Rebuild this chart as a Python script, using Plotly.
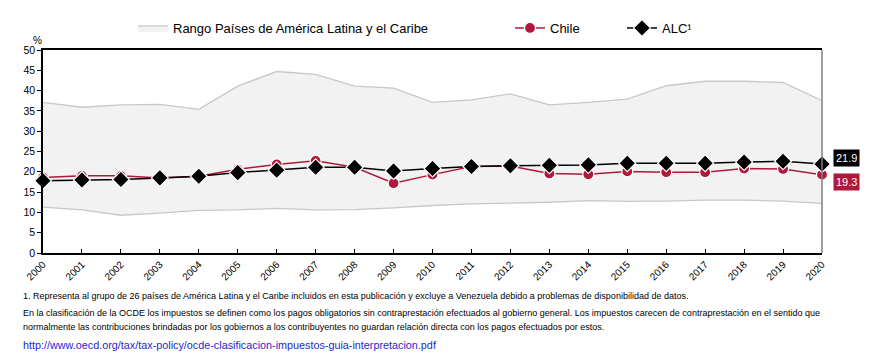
import plotly.graph_objects as go

years = list(range(2000, 2021))
range_upper = [37.1, 35.9, 36.5, 36.6, 35.4, 41.1, 44.7, 44.0, 41.1, 40.6, 37.1,
               37.7, 39.2, 36.5, 37.1, 37.9, 41.2, 42.3, 42.3, 42.0, 37.5]
range_lower = [11.3, 10.6, 9.3, 9.8, 10.5, 10.6, 11.0, 10.6, 10.7, 11.1, 11.7,
               12.1, 12.3, 12.5, 12.9, 12.7, 12.8, 13.0, 13.0, 12.8, 12.2]
chile = [18.6, 19.0, 19.0, 18.5, 18.9, 20.6, 21.8, 22.7, 21.1, 17.2, 19.3,
         21.3, 21.4, 19.6, 19.4, 20.1, 19.9, 19.9, 20.8, 20.7, 19.3]
alc = [17.8, 18.0, 18.1, 18.5, 18.9, 19.8, 20.4, 21.1, 21.1, 20.2, 20.8,
       21.3, 21.5, 21.6, 21.7, 22.1, 22.1, 22.1, 22.4, 22.6, 21.9]

name_range = "Rango Países de América Latina y el Caribe"
name_chile = "Chile"
name_alc = "ALC¹"
y_ticks = list(range(0, 55, 5))

note1 = "1. Representa al grupo de 26 países de América Latina y el Caribe incluidos en esta publicación y excluye a Venezuela debido a problemas de disponibilidad de datos."
note2 = "En la clasificación de la OCDE los impuestos se definen como los pagos obligatorios sin contraprestación efectuados al gobierno general. Los impuestos carecen de contraprestación en el sentido que"
note3 = "normalmente las contribuciones brindadas por los gobiernos a los contribuyentes no guardan relación directa con los pagos efectuados por estos."
link = "http://www.oecd.org/tax/tax-policy/ocde-clasificacion-impuestos-guia-interpretacion.pdf"

RED = "#B0173B"
FONT = "Liberation Sans, Arial, sans-serif"

fig = go.Figure()
fig.add_trace(go.Scatter(x=years, y=range_lower, mode="lines",
                         line=dict(color="#c8c8c8", width=1.3),
                         showlegend=False, hoverinfo="skip"))
fig.add_trace(go.Scatter(x=years, y=range_upper, mode="lines", fill="tonexty",
                         fillcolor="#f2f2f2", line=dict(color="#c8c8c8", width=1.3),
                         name=name_range, legendwidth=332))
fig.add_trace(go.Scatter(x=years, y=chile, mode="lines+markers", name=name_chile,
                         line=dict(color=RED, width=1.5),
                         marker=dict(symbol="circle", size=11, color=RED,
                                     line=dict(color="white", width=1.2)),
                         cliponaxis=False, legendwidth=67))
fig.add_trace(go.Scatter(x=years, y=alc, mode="lines+markers", name=name_alc,
                         line=dict(color="#000000", width=1.5),
                         marker=dict(symbol="diamond", size=13, color="#000000",
                                     line=dict(color="white", width=1.2)),
                         cliponaxis=False, legendwidth=60))

annotations = [
    dict(x=years[-1], y=alc[-1], xref="x", yref="y", text=f"{alc[-1]:.1f}",
         showarrow=False, xshift=24, yshift=6, bgcolor="#000000",
         font=dict(family=FONT, size=11, color="white"), borderpad=2),
    dict(x=years[-1], y=chile[-1], xref="x", yref="y", text=f"{chile[-1]:.1f}",
         showarrow=False, xshift=24, yshift=-7, bgcolor=RED,
         font=dict(family=FONT, size=11, color="white"), borderpad=2),
    dict(x=0, y=1.0, xref="paper", yref="paper", text="%", showarrow=False,
         xanchor="right", yanchor="bottom", xshift=1, yshift=2,
         font=dict(family=FONT, size=10, color="#000")),
]
foot = [(note1, 296, "#000", 9), (note2, 313, "#000", 9), (note3, 326.5, "#000", 9),
        (link, 345, "#1F1FD0", 10.8)]
for txt, py, col, sz in foot:
    annotations.append(dict(x=(21 - 43) / 779, y=(253 - py) / 203, xref="paper", yref="paper",
                            text=txt, showarrow=False, xanchor="left", yanchor="middle",
                            font=dict(family=FONT, size=sz, color=col)))

fig.update_layout(
    width=874, height=354,
    margin=dict(l=43, r=52, t=50, b=101),
    plot_bgcolor="white", paper_bgcolor="white",
    font=dict(family=FONT, size=11, color="#000"),
    xaxis=dict(range=[2000, 2020], tickmode="array", tickvals=years,
               ticktext=[str(y) for y in years], tickangle=-45,
               ticks="inside", ticklen=4, tickcolor="#000",
               showline=True, linecolor="#000", linewidth=1.5, mirror=True,
               showgrid=False, zeroline=False,
               tickfont=dict(family=FONT, size=10, color="#000")),
    yaxis=dict(range=[0, 50], tickvals=y_ticks, ticks="outside", ticklen=4,
               tickcolor="#000", showline=True, linecolor="#000", linewidth=1.5,
               showgrid=False, zeroline=False,
               tickfont=dict(family=FONT, size=10.5, color="#000")),
    legend=dict(orientation="h", x=(133 - 43) / 779, xanchor="left",
                y=(253 - 28) / 203, yanchor="middle", traceorder="normal",
                font=dict(family=FONT, size=13, color="#000"),
                bgcolor="rgba(0,0,0,0)", tracegroupgap=0),
    annotations=annotations,
    shapes=[dict(type="line", xref="paper", yref="paper", x0=1, x1=1, y0=0, y1=1,
                 line=dict(color="#808080", width=1.5))],
)

fig.write_html("out.html")
